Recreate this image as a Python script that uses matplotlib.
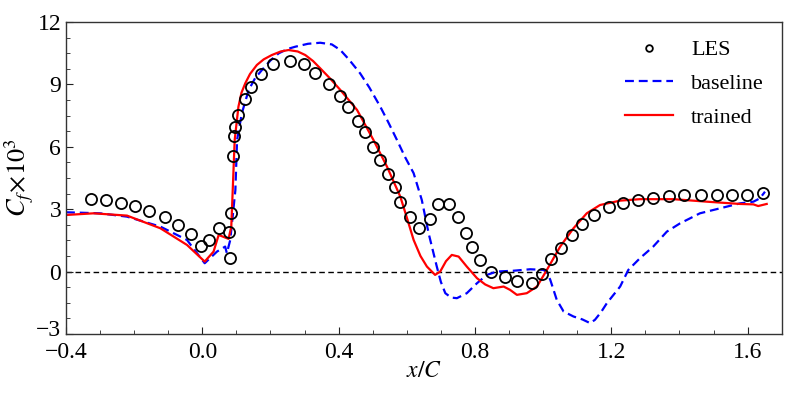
import matplotlib
matplotlib.use("Agg")
import matplotlib.pyplot as plt
from matplotlib.ticker import MultipleLocator
from matplotlib.transforms import ScaledTranslation

plt.rcParams['font.family'] = ['Liberation Serif', 'DejaVu Serif']
plt.rcParams['mathtext.fontset'] = 'stix'

les_x = [-0.328, -0.284, -0.240, -0.197, -0.155, -0.109, -0.070, -0.032, -0.003, 0.021,
         0.049, 0.077, 0.082, 0.085, 0.090, 0.092, 0.097, 0.106, 0.126, 0.144,
         0.172, 0.207, 0.256, 0.298, 0.331, 0.373, 0.403, 0.427, 0.457, 0.476,
         0.501, 0.522, 0.544, 0.564, 0.581, 0.608, 0.635, 0.667, 0.692, 0.725,
         0.750, 0.773, 0.791, 0.814, 0.847, 0.887, 0.922, 0.967, 0.998, 1.024,
         1.053, 1.084, 1.113, 1.148, 1.194, 1.234, 1.278, 1.323, 1.369, 1.413,
         1.464, 1.509, 1.555, 1.599, 1.644]
les_y = [3.50, 3.46, 3.31, 3.14, 2.91, 2.61, 2.25, 1.82, 1.25, 1.50,
         2.08, 1.92, 0.64, 2.80, 5.57, 6.50, 6.94, 7.51, 8.28, 8.89,
         9.51, 10.0, 10.14, 9.97, 9.53, 9.02, 8.46, 7.93, 7.23, 6.70,
         5.98, 5.35, 4.69, 4.05, 3.35, 2.64, 2.11, 2.53, 3.25, 3.25,
         2.61, 1.84, 1.17, 0.56, 0.0, -0.25, -0.44, -0.53, -0.12, 0.58,
         1.15, 1.76, 2.27, 2.72, 3.09, 3.30, 3.46, 3.55, 3.63, 3.67,
         3.67, 3.68, 3.68, 3.68, 3.76]

base_x = [-0.4, -0.30, -0.221, -0.123, -0.045, 0.007, 0.043, 0.067, 0.072, 0.082,
          0.097, 0.102, 0.116, 0.136, 0.155, 0.175, 0.200, 0.224, 0.250, 0.273,
          0.310, 0.346, 0.380, 0.405, 0.430, 0.463, 0.490, 0.522, 0.545, 0.571,
          0.595, 0.620, 0.644, 0.664, 0.688, 0.700, 0.713, 0.730, 0.747, 0.776,
          0.806, 0.835, 0.864, 0.913, 0.962, 1.001, 1.012, 1.021, 1.040, 1.060,
          1.089, 1.115, 1.138, 1.152, 1.170, 1.187, 1.226, 1.250, 1.284, 1.323,
          1.363, 1.402, 1.430, 1.460, 1.519, 1.578, 1.617, 1.636, 1.651]
base_y = [2.85, 2.80, 2.64, 2.16, 1.52, 0.40, 0.96, 1.20, 0.88, 1.52,
          3.92, 6.33, 7.61, 8.73, 9.30, 9.69, 10.15, 10.49, 10.70, 10.81,
          10.95, 11.0, 10.92, 10.65, 10.20, 9.53, 8.85, 7.93, 7.20, 6.33,
          5.50, 4.73, 3.44, 1.84, 0.24, -0.50, -1.04, -1.25, -1.28, -1.04,
          -0.56, -0.16, 0.0, 0.04, 0.11, 0.08, -0.05, -0.40, -1.36, -1.92,
          -2.16, -2.30, -2.48, -2.32, -1.95, -1.52, -0.72, 0.08, 0.64, 1.20,
          1.92, 2.32, 2.55, 2.80, 3.04, 3.28, 3.36, 3.52, 3.84]

train_x = [-0.4, -0.319, -0.221, -0.123, -0.045, 0.007, 0.033, 0.048, 0.077, 0.085,
           0.095, 0.106, 0.115, 0.126, 0.140, 0.160, 0.180, 0.204, 0.230, 0.253,
           0.280, 0.302, 0.325, 0.346, 0.375, 0.405, 0.454, 0.502, 0.542, 0.581,
           0.600, 0.620, 0.640, 0.659, 0.683, 0.698, 0.715, 0.732, 0.752, 0.776,
           0.806, 0.830, 0.854, 0.884, 0.903, 0.923, 0.952, 0.982, 1.011, 1.050,
           1.089, 1.128, 1.167, 1.226, 1.284, 1.382, 1.480, 1.578, 1.617, 1.631,
           1.656]
train_y = [2.72, 2.80, 2.69, 2.08, 1.28, 0.48, 0.96, 1.76, 1.57, 2.16,
           6.33, 7.93, 8.60, 9.05, 9.50, 9.93, 10.20, 10.41, 10.58, 10.65,
           10.58, 10.41, 10.12, 9.77, 9.28, 8.73, 7.77, 6.33, 5.04, 3.60,
           2.60, 1.52, 0.75, 0.24, -0.16, 0.0, 0.50, 0.80, 0.72, 0.24,
           -0.32, -0.62, -0.80, -0.72, -0.88, -1.12, -1.04, -0.72, 0.08, 1.20,
           2.08, 2.80, 3.20, 3.41, 3.48, 3.48, 3.36, 3.25, 3.23, 3.15,
           3.25]

x_ticks = [-0.4, 0.0, 0.4, 0.8, 1.2, 1.6]
x_ticklabels = ['\u22120.4', '0.0', '0.4', '0.8', '1.2', '1.6']
y_ticks = [-3, 0, 3, 6, 9, 12]
y_ticklabels = ['\u22123', '0', '3', '6', '9', '12']

fig = plt.figure(figsize=(7.97, 3.99), dpi=100)
ax = fig.add_axes([0.0828, 0.163, 0.898, 0.782])

ax.axhline(0, color='black', ls='--', lw=1.0, dashes=(4, 2.5), zorder=1)
ax.plot(les_x, les_y, 'o', mfc='none', mec='black', ms=8, mew=1.3, label='LES', zorder=3)
ax.plot(base_x, base_y, color='#0000ff', ls='--', lw=1.6, dashes=(4, 2.2), label='baseline', zorder=2)
ax.plot(train_x, train_y, color='#ff0000', ls='-', lw=1.6, label='trained', zorder=2)

ax.set_xlim(-0.4, 1.7)
ax.set_ylim(-3, 12)
ax.set_xticks(x_ticks)
ax.set_xticklabels(x_ticklabels)
ax.set_yticks(y_ticks)
ax.set_yticklabels(y_ticklabels)
ax.xaxis.set_minor_locator(MultipleLocator(0.1))
ax.yaxis.set_minor_locator(MultipleLocator(0.75))
ax.tick_params(which='both', direction='in', labelsize=17, colors='#222222', labelcolor='black')
ax.tick_params(axis='x', which='major', pad=6)
ax.tick_params(which='major', length=5)
ax.tick_params(which='minor', length=3)
for s in ax.spines.values():
    s.set_color('#333333')
    s.set_linewidth(1.0)

# nudge the lowest y tick label up slightly so it does not collide with the first x label
lab = ax.yaxis.get_major_ticks()[0].label1
lab.set_transform(lab.get_transform() + ScaledTranslation(0, 4 / 72, fig.dpi_scale_trans))

ax.set_xlabel('$x/C$', fontsize=17, labelpad=-2)
ax.set_ylabel(r'$C_f\!\times\!10^3$', fontsize=19, labelpad=0)

leg = ax.legend(loc='upper right', frameon=False, fontsize=16, markerscale=0.6,
                handlelength=2.2, borderaxespad=0.4, labelspacing=0.6)

fig.savefig('out.png', dpi=100)
